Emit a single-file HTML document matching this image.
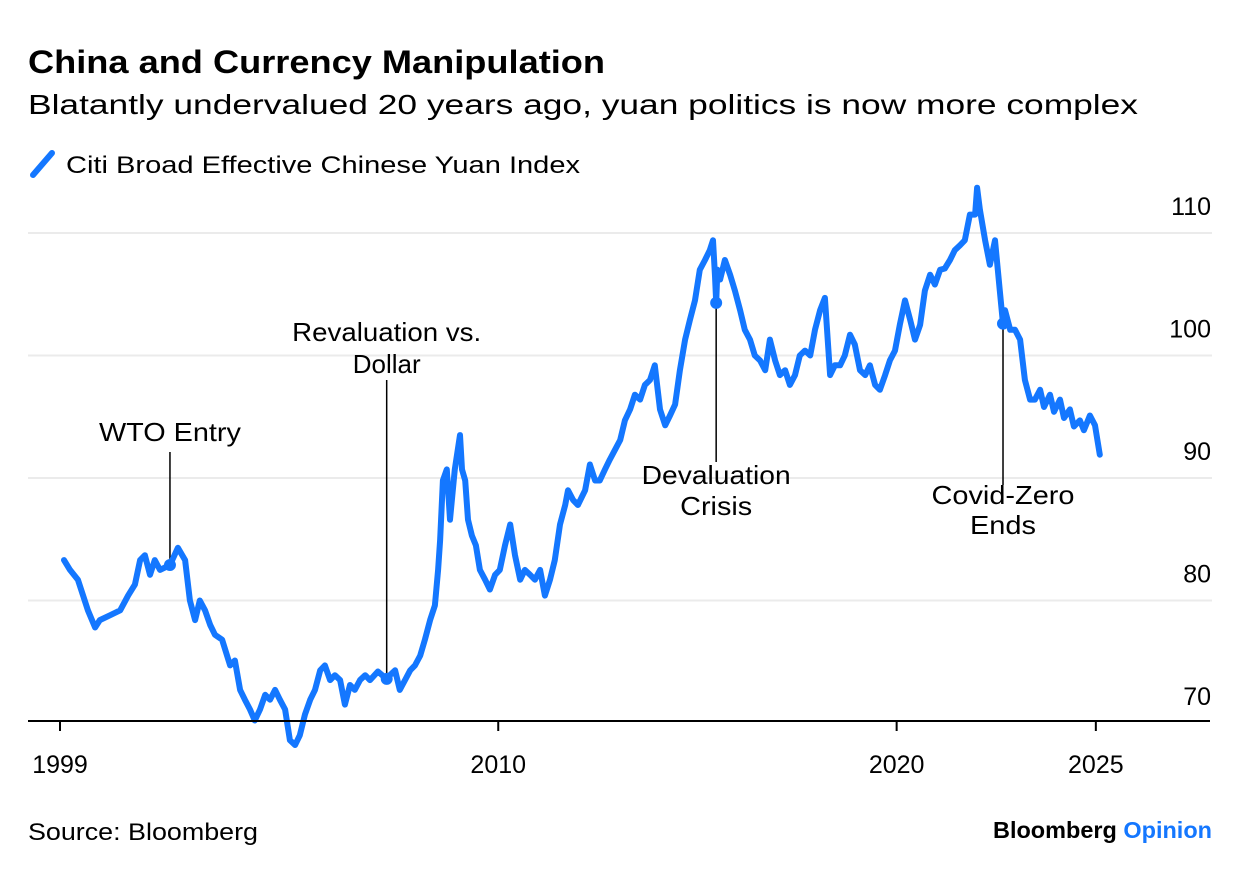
<!DOCTYPE html>
<html><head><meta charset="utf-8"><style>
body{margin:0;background:#fff;font-family:"Liberation Sans",sans-serif;}
svg text{font-family:"Liberation Sans",sans-serif;}
</style></head><body>
<svg id="chart" width="1240" height="874" viewBox="0 0 1240 874" xmlns="http://www.w3.org/2000/svg">
<text x="28" y="73" font-size="32" font-weight="bold" fill="#000" textLength="577" lengthAdjust="spacingAndGlyphs">China and Currency Manipulation</text>
<text x="28" y="114" font-size="28" fill="#000" textLength="1110" lengthAdjust="spacingAndGlyphs">Blatantly undervalued 20 years ago, yuan politics is now more complex</text>
<g>
<line x1="33" y1="175" x2="52" y2="153" stroke="#1477ff" stroke-width="6" stroke-linecap="round"/>
<text x="66" y="173" font-size="24" fill="#000" textLength="514" lengthAdjust="spacingAndGlyphs">Citi Broad Effective Chinese Yuan Index</text>
</g>
<g id="grid"></g><g id="ann"></g><g id="series"></g><g id="axes"></g>
<text x="28" y="840" font-size="24" fill="#000" textLength="230" lengthAdjust="spacingAndGlyphs">Source: Bloomberg</text>
<text x="993" y="838" font-size="23" font-weight="bold" fill="#000" textLength="219" lengthAdjust="spacingAndGlyphs">Bloomberg <tspan fill="#1477ff">Opinion</tspan></text>
</svg>
<script>
const dates=[1999.10,1999.25,1999.45,1999.70,1999.88,2000.00,2000.26,2000.51,2000.71,2000.88,2001.01,2001.13,2001.26,2001.38,2001.51,2001.76,2001.96,2002.14,2002.26,2002.39,2002.51,2002.64,2002.77,2002.89,2003.07,2003.27,2003.39,2003.52,2003.64,2003.77,2003.89,2004.02,2004.15,2004.27,2004.40,2004.52,2004.65,2004.77,2004.90,2005.02,2005.15,2005.28,2005.40,2005.53,2005.65,2005.78,2005.90,2006.03,2006.15,2006.28,2006.40,2006.53,2006.66,2006.78,2006.98,2007.16,2007.28,2007.41,2007.53,2007.66,2007.79,2007.91,2008.04,2008.16,2008.29,2008.41,2008.49,2008.54,2008.61,2008.71,2008.79,2008.91,2009.04,2009.09,2009.17,2009.24,2009.34,2009.44,2009.54,2009.67,2009.79,2009.92,2010.04,2010.17,2010.30,2010.42,2010.55,2010.67,2010.80,2010.92,2011.05,2011.17,2011.30,2011.42,2011.55,2011.68,2011.75,2011.88,2012.00,2012.18,2012.30,2012.43,2012.55,2012.68,2012.80,2012.93,2013.06,2013.18,2013.31,2013.43,2013.56,2013.68,2013.81,2013.93,2014.06,2014.19,2014.31,2014.44,2014.56,2014.69,2014.81,2014.94,2015.06,2015.19,2015.31,2015.39,2015.44,2015.47,2015.50,2015.57,2015.69,2015.82,2015.94,2016.07,2016.19,2016.32,2016.44,2016.57,2016.70,2016.82,2016.95,2017.07,2017.20,2017.32,2017.45,2017.57,2017.70,2017.83,2017.95,2018.08,2018.20,2018.33,2018.45,2018.58,2018.70,2018.83,2018.95,2019.08,2019.21,2019.33,2019.46,2019.58,2019.71,2019.83,2019.96,2020.08,2020.21,2020.34,2020.46,2020.59,2020.71,2020.84,2020.96,2021.09,2021.21,2021.34,2021.46,2021.59,2021.71,2021.84,2021.97,2022.02,2022.09,2022.22,2022.34,2022.47,2022.59,2022.67,2022.72,2022.85,2022.97,2023.10,2023.22,2023.35,2023.47,2023.60,2023.70,2023.85,2023.95,2024.10,2024.20,2024.35,2024.45,2024.60,2024.70,2024.85,2024.98,2025.10];
const values=[83.3,82.5,81.7,79.2,77.8,78.4,78.8,79.2,80.4,81.3,83.3,83.7,82.1,83.3,82.5,82.9,84.3,83.3,80.0,78.4,80.0,79.2,78.0,77.2,76.8,74.7,75.1,72.7,71.9,71.1,70.2,71.1,72.3,71.9,72.7,71.9,71.1,68.6,68.2,69.0,70.7,71.9,72.7,74.3,74.7,73.5,73.9,73.5,71.5,73.1,72.7,73.5,73.9,73.5,74.2,73.7,73.9,74.3,72.7,73.5,74.3,74.7,75.5,76.8,78.4,79.6,82.5,84.9,89.8,90.7,86.6,90.7,93.5,90.7,89.8,86.6,85.3,84.5,82.5,81.7,80.9,82.1,82.5,84.5,86.2,83.7,81.7,82.5,82.1,81.7,82.5,80.4,81.7,83.3,86.2,87.8,89.0,88.2,87.8,89.0,91.1,89.8,89.8,90.7,91.5,92.3,93.1,94.7,95.6,96.8,96.4,97.6,98.0,99.2,95.6,94.3,95.1,96.0,98.8,101.3,102.9,104.5,107.0,107.8,108.6,109.4,106.5,104.3,107.0,106.2,107.8,106.6,105.3,103.7,102.1,101.3,100.0,99.6,98.8,101.3,99.6,98.4,98.8,97.6,98.4,100.0,100.4,100.0,102.1,103.7,104.7,98.4,99.2,99.2,100.0,101.7,100.9,98.8,98.4,99.2,97.6,97.2,98.4,99.6,100.4,102.5,104.5,102.9,101.3,102.5,105.3,106.6,105.8,107.0,107.1,107.8,108.6,109.0,109.4,111.5,111.5,113.7,111.9,109.4,107.4,109.4,105.3,102.6,103.7,102.1,102.1,101.3,98.0,96.4,96.4,97.2,95.8,96.8,95.4,96.4,94.9,95.6,94.2,94.7,93.9,95.1,94.3,91.9];
const yTicks=[70,80,90,100,110];
const xTicks=[1999,2010,2020,2025];
const annLabels=[["WTO Entry"],["Revaluation vs.","Dollar"],["Devaluation","Crisis"],["Covid-Zero","Ends"]];
const annDates=[2001.76,2007.2,2015.47,2022.67];
const annValues=[82.9,73.6,104.3,102.6];

const NS="http://www.w3.org/2000/svg";
const X=t=>60+39.84*(t-1999);
const Y=v=>233+(110-v)*12.25;
function mk(tag,attrs,parent,text){const e=document.createElementNS(NS,tag);for(const k in attrs)e.setAttribute(k,attrs[k]);if(text!==undefined)e.textContent=text;parent.appendChild(e);return e;}
const grid=document.getElementById('grid'),axes=document.getElementById('axes'),ser=document.getElementById('series'),ann=document.getElementById('ann');
yTicks.forEach(v=>{
  if(v>70){const g=mk('line',{x1:28,x2:1212,y1:Y(v),y2:Y(v),stroke:'#ebebeb','stroke-width':2},grid);
  
  }
  const t=mk('text',{x:1211,y:Y(v)-18,'font-size':25,'text-anchor':'end',fill:'#000'},axes,String(v));
  
  
});
const ax=mk('line',{x1:28,x2:1210,y1:721,y2:721,stroke:'#000','stroke-width':2},axes);


xTicks.forEach(y=>{
  const tk=mk('line',{x1:X(y),x2:X(y),y1:721,y2:731,stroke:'#000','stroke-width':2},axes);
  
  
  const t=mk('text',{x:X(y),y:773,'font-size':25,'text-anchor':'middle',fill:'#000'},axes,String(y));
  
  
});
let d='';dates.forEach((t,i)=>{d+=(i?'L':'M')+X(t).toFixed(1)+','+Y(values[i]).toFixed(1);});
const p=mk('path',{d:d,fill:'none',stroke:'#1477ff','stroke-width':6,'stroke-linejoin':'round','stroke-linecap':'round'},ser);


const below=[false,false,true,true];
const lineEnds=[[452,565],[380,668],[305,462],[325,485]];
const labelY=[[441],[341,373],[484,515],[504,534]];
const labelW=[[142],[189],[149,72],[143,66]];
annDates.forEach((t,i)=>{
  const x=X(t),yp=Y(annValues[i]);
  const top=below[i]?yp:lineEnds[i][0], bot=below[i]?lineEnds[i][1]:yp;
  const l=mk('line',{x1:x,x2:x,y1:top,y2:bot,stroke:'#000','stroke-width':1.5},ann);
  
  
  const c=mk('circle',{cx:x,cy:yp,r:6,fill:'#1477ff'},ser);
  
  
  annLabels[i].forEach((s,j)=>{
    const a={x:x,y:labelY[i][j],'font-size':26,'text-anchor':'middle',fill:'#000'};
    if(labelW[i][j]){a.textLength=labelW[i][j];a.lengthAdjust='spacingAndGlyphs';}
    const tx=mk('text',a,ann,s);
    
    
  });
});
</script>
</body></html>
